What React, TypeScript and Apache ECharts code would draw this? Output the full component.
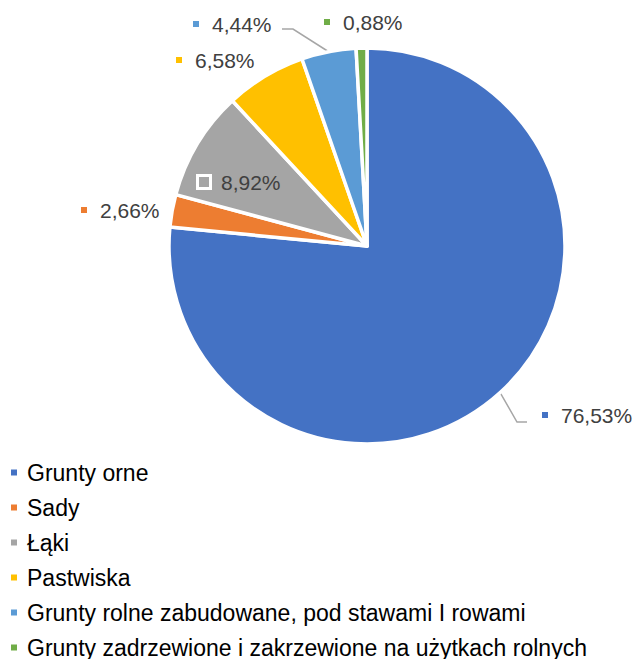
import React, { useEffect, useRef } from "react";
import * as echarts from "echarts";

const categories = [
  "Grunty orne",
  "Sady",
  "Łąki",
  "Pastwiska",
  "Grunty rolne zabudowane, pod stawami I rowami",
  "Grunty zadrzewione i zakrzewione na użytkach rolnych",
];
const values = [76.53, 2.66, 8.92, 6.58, 4.44, 0.88];
const colors = ["#4472C4", "#ED7D31", "#A5A5A5", "#FFC000", "#5B9BD5", "#70AD47"];

// label anchor positions (left edge of marker, vertical centre)
const labelAnchors: number[][] = [
  [542, 415],
  [81, 210],
  [199, 182],
  [176, 60],
  [193, 24],
  [324, 22],
];
const insideLabel = [false, false, true, false, false, false];
const hasLine = [true, false, false, false, true, false];

const FONT = '"Liberation Sans", Arial, sans-serif';

export default function App() {
  const ref = useRef<HTMLDivElement>(null);
  useEffect(() => {
    if (!ref.current) return;
    const chart = echarts.init(ref.current, null, { renderer: "svg" });
    const data = categories.map((name, i) => {
      const txt = values[i].toFixed(2).replace(".", ",") + "%";
      const marker = insideLabel[i]
        ? { width: 10, height: 10, backgroundColor: colors[i], borderColor: "#FFFFFF", borderWidth: 3 }
        : { width: 6, height: 6, backgroundColor: colors[i] };
      return {
        name,
        value: values[i],
        itemStyle: { color: colors[i] },
        label: {
          formatter: "{s|}{t|" + txt + "}",
          rich: {
            s: marker,
            t: {
              fontSize: 21,
              fontFamily: FONT,
              color: "#404040",
              padding: [0, 0, 0, insideLabel[i] ? 12 : 13],
            },
          },
        },
        labelLine: { show: hasLine[i] },
      };
    });
    chart.setOption({
      animation: false,
      legend: {
        orient: "vertical",
        left: 9,
        top: 455,
        height: 400,
        padding: 0,
        itemWidth: 8,
        itemHeight: 8,
        itemGap: 0,
        icon: "rect",
        data: categories,
        textStyle: {
          fontSize: 23,
          fontFamily: FONT,
          color: "#000000",
          lineHeight: 35,
          padding: [0, 0, 0, 4],
        },
      },
      series: [
        {
          type: "pie",
          center: [367, 246],
          radius: 198,
          startAngle: 90,
          clockwise: true,
          avoidLabelOverlap: false,
          itemStyle: { borderColor: "#FFFFFF", borderWidth: 3.5 },
          label: { show: true, position: "outside" },
          labelLine: { show: true, lineStyle: { color: "#A6A6A6", width: 1.5 } },
          labelLayout: (params: any) => {
            const i = params.dataIndex;
            const [ax, ay] = labelAnchors[i];
            const res: any = { x: ax, y: ay, align: "left", verticalAlign: "middle" };
            if (hasLine[i] && params.labelLinePoints) {
              const p0 = params.labelLinePoints[0];
              if (i === 0) {
                res.labelLinePoints = [p0, [ax - 25, ay + 7], [ax - 15, ay + 7]];
              } else {
                res.labelLinePoints = [p0, [ax + 100, ay + 5], [ax + 89, ay + 5]];
              }
            }
            return res;
          },
          data,
        },
      ],
    });
    return () => chart.dispose();
  }, []);
  return (
    <div
      ref={ref}
      style={{ position: "fixed", left: 0, top: 0, width: 635, height: 659, background: "#fff" }}
    />
  );
}
